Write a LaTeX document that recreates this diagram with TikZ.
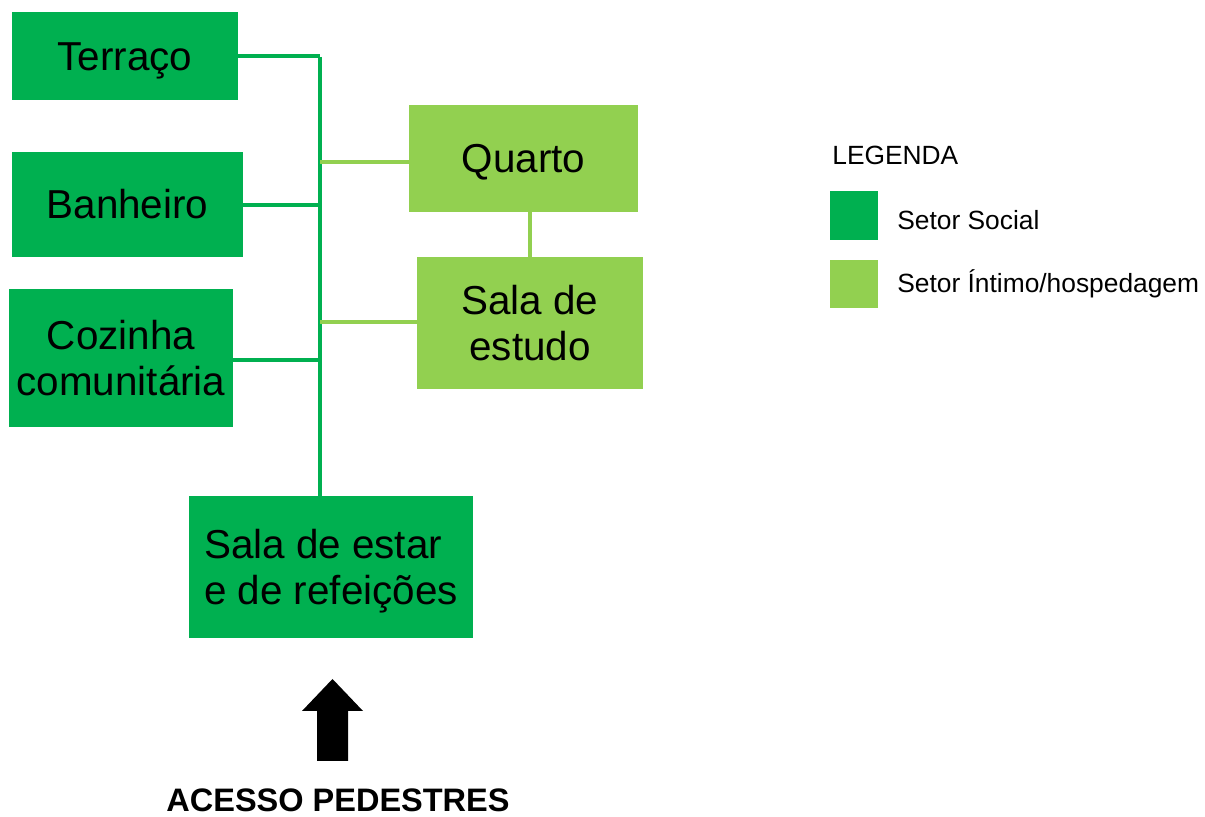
\documentclass[tikz,border=0pt]{standalone}
\usepackage{fontspec}
\setmainfont{Liberation Sans}
\definecolor{social}{HTML}{00B050}
\definecolor{intimo}{HTML}{92D050}

\begin{document}
\begin{tikzpicture}[x=0.02cm,y=-0.02cm,
	room/.style={rectangle,inner sep=0pt,align=center,text height=16.5pt,text depth=0pt,font=\fontsize{23}{26}\selectfont},
	two lines/.style={text height=42.5pt},
	social room/.style={room,fill=social},
	intimo room/.style={room,fill=intimo},
	link/.style={line width=2.6pt}]
	\useasboundingbox (0,0) rectangle (1205,817);
		\node[social room,minimum width=4.52cm,minimum height=1.76cm](terraco) at (125,56) {Terraço};
		\node[social room,minimum width=4.62cm,minimum height=2.1cm](banheiro) at (127.5,204.5) {Banheiro};
		\node[social room,two lines,minimum width=4.48cm,minimum height=2.76cm](cozinha) at (121,358) {Cozinha\\comunitária};
		\node[intimo room,minimum width=4.58cm,minimum height=2.14cm](quarto) at (523.5,158.5) {Quarto};
		\node[intimo room,two lines,text depth=-3pt,minimum width=4.52cm,minimum height=2.64cm](estudo) at (530,323) {Sala de\\estudo};
		\node[social room,two lines,align=left,minimum width=5.68cm,minimum height=2.84cm](estar) at (331,567) {Sala de estar\\e de refeições};
		\coordinate (top) at (320,57);
		\draw [link,social] (top) -- (estar.north -| top);
		\draw [link,social] (terraco.east) -- (terraco.east -| top);
		\draw [link,social] ([yshift=-0.5*0.02cm]banheiro.east) -- ([yshift=-0.5*0.02cm]banheiro.east -| top);
		\draw [link,social] ([yshift=-2*0.02cm]cozinha.east) -- ([yshift=-2*0.02cm]cozinha.east -| top);
		\draw [link,intimo] ([yshift=-3.5*0.02cm]quarto.west) -- ([yshift=-3.5*0.02cm]quarto.west -| top);
		\draw [link,intimo] ([yshift=0.02cm]estudo.west) -- ([yshift=0.02cm]estudo.west -| top);
		\draw [link,intimo] (estudo.north) -- (estudo.north |- quarto.south);
		% acesso
		\fill (317,761) -- (317,711) -- (302,711) -- (332.5,679) -- (363,711) -- (348,711) -- (348,761) -- cycle;
		\node[anchor=base,inner sep=0pt,font=\fontsize{18.5}{22}\selectfont\bfseries](acesso) at (338,812) {ACESSO PEDESTRES};
		% legenda
		\node[anchor=west,inner sep=0pt,font=\fontsize{15}{18}\selectfont](legenda) at (832,155) {LEGENDA};
		\node[fill=social,minimum width=0.96cm,minimum height=0.98cm,inner sep=0pt](kSocial) at (854,215.5) {};
		\node[fill=intimo,minimum width=0.96cm,minimum height=0.96cm,inner sep=0pt](kIntimo) at (854,284) {};
		\node[anchor=west,inner sep=0pt,font=\fontsize{15}{18}\selectfont](lSocial) at (897,220) {Setor Social};
		\node[anchor=west,inner sep=0pt,font=\fontsize{15}{18}\selectfont](lIntimo) at (897,284) {Setor Íntimo/hospedagem};
	\end{tikzpicture}
\end{document}
